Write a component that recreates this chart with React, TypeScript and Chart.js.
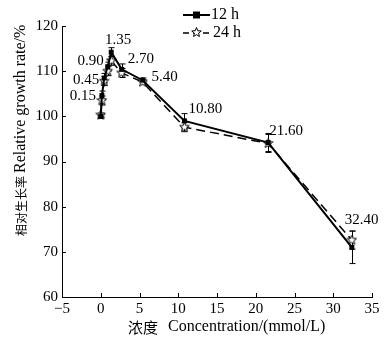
import React, { useEffect, useRef } from "react";
import { Chart, registerables } from "chart.js";

Chart.register(...registerables);

const concentrations = [0, 0.15, 0.45, 0.9, 1.35, 2.7, 5.4, 10.8, 21.6, 32.4];
const pointLabels = ["", "0.15", "0.45", "0.90", "1.35", "2.70", "5.40", "10.80", "21.60", "32.40"];
const growth12h = [100, 104.6, 108.5, 111, 114.2, 110.4, 108, 99, 94.2, 71];
const growth24h = [100.3, 103.5, 107.8, 110, 112.3, 109.6, 107.6, 97.6, 94, 72.6];
const err12h = [0.4, 1, 1, 1, 1, 1.2, 0.5, 1.6, 2, 3.6];
const err24h = [0.4, 1, 1, 1, 1, 1, 0.5, 1, 2, 2];
const seriesNames = ["12 h", "24 h"];
const xTicks = { min: -5, max: 35, step: 5 };
const yTicks = { min: 60, max: 120, step: 10 };
const xTitleCJK = "浓度";
const xTitleLatin = "Concentration/(mmol/L)";
const yTitleCJK = "相对生长率";
const yTitleLatin = "Relative growth rate/%";

// label placement relative to the 12 h point: [align, dx, dy]
const labelPlacement: [CanvasTextAlign, number, number][] = [
  ["left", 0, 0],
  ["right", -6, 1],
  ["right", -5, 2],
  ["right", -4, -6],
  ["center", 7, -12],
  ["left", 6, -10],
  ["left", 9, -3],
  ["left", 4, -12],
  ["left", 1, -11],
  ["left", -7, -27],
];

const SERIF = '"Liberation Serif", "Times New Roman", serif';
const CJK = '"Noto Sans CJK SC", sans-serif';

function makeStar(): HTMLCanvasElement {
  const c = document.createElement("canvas");
  c.width = 11;
  c.height = 11;
  const g = c.getContext("2d")!;
  g.beginPath();
  for (let i = 0; i < 10; i++) {
    const r = i % 2 === 0 ? 5 : 2.2;
    const a = -Math.PI / 2 + (i * Math.PI) / 5;
    const x = 5.5 + r * Math.cos(a);
    const y = 5.5 + r * Math.sin(a);
    if (i === 0) g.moveTo(x, y);
    else g.lineTo(x, y);
  }
  g.closePath();
  g.fillStyle = "#fff";
  g.fill();
  g.strokeStyle = "#000";
  g.lineWidth = 1;
  g.stroke();
  return c;
}

export default function App() {
  const ref = useRef<HTMLCanvasElement | null>(null);

  useEffect(() => {
    const canvas = ref.current;
    if (!canvas) return;
    const star = makeStar();

    const extras = {
      id: "extras",
      beforeDatasetsDraw(chart: any) {
        const ctx = chart.ctx;
        const xs = chart.scales.x;
        const ys = chart.scales.y;
        ctx.save();
        ctx.strokeStyle = "#000";
        ctx.lineWidth = 1;
        const errs = [err12h, err24h];
        const vals = [growth12h, growth24h];
        for (let d = 0; d < 2; d++) {
          concentrations.forEach((c, i) => {
            const x = Math.round(xs.getPixelForValue(c)) + 0.5;
            const yt = ys.getPixelForValue(vals[d][i] + errs[d][i]);
            const yb = ys.getPixelForValue(vals[d][i] - errs[d][i]);
            ctx.beginPath();
            ctx.moveTo(x, yt);
            ctx.lineTo(x, yb);
            ctx.moveTo(x - 3, yt);
            ctx.lineTo(x + 3, yt);
            ctx.moveTo(x - 3, yb);
            ctx.lineTo(x + 3, yb);
            ctx.stroke();
          });
        }
        ctx.restore();
      },
      afterDraw(chart: any) {
        const ctx = chart.ctx;
        const xs = chart.scales.x;
        const ys = chart.scales.y;
        const area = chart.chartArea;
        ctx.save();
        ctx.strokeStyle = "#000";
        ctx.lineWidth = 1;
        // inward ticks
        for (let v = xTicks.min; v <= xTicks.max; v += xTicks.step) {
          const x = Math.round(xs.getPixelForValue(v)) + 0.5;
          ctx.beginPath();
          ctx.moveTo(x, area.bottom);
          ctx.lineTo(x, area.bottom - 4);
          ctx.stroke();
        }
        for (let v = yTicks.min; v <= yTicks.max; v += yTicks.step) {
          const y = Math.round(ys.getPixelForValue(v)) + 0.5;
          ctx.beginPath();
          ctx.moveTo(area.left, y);
          ctx.lineTo(area.left + 4, y);
          ctx.stroke();
        }
        // point labels
        ctx.fillStyle = "#000";
        ctx.font = `15px ${SERIF}`;
        ctx.textBaseline = "middle";
        concentrations.forEach((c, i) => {
          if (!pointLabels[i]) return;
          const [al, dx, dy] = labelPlacement[i];
          ctx.textAlign = al;
          ctx.fillText(pointLabels[i], xs.getPixelForValue(c) + dx, ys.getPixelForValue(growth12h[i]) + dy);
        });
        // axis titles
        ctx.textAlign = "left";
        ctx.font = `15px ${CJK}`;
        ctx.fillText(xTitleCJK, 128, 327);
        ctx.font = `16px ${SERIF}`;
        ctx.fillText(xTitleLatin, 168, 327);
        ctx.save();
        ctx.translate(21, 0);
        ctx.rotate(-Math.PI / 2);
        ctx.font = `12px ${CJK}`;
        ctx.fillText(yTitleCJK, -236, 0);
        ctx.font = `16px ${SERIF}`;
        ctx.fillText(yTitleLatin, -173, 0);
        ctx.restore();
        // legend
        ctx.lineWidth = 2;
        ctx.beginPath();
        ctx.moveTo(183, 15);
        ctx.lineTo(210, 15);
        ctx.stroke();
        ctx.fillRect(193, 11.5, 7, 7);
        ctx.setLineDash([6, 4]);
        ctx.lineWidth = 1.5;
        ctx.beginPath();
        ctx.moveTo(183, 33);
        ctx.lineTo(211, 33);
        ctx.stroke();
        ctx.setLineDash([]);
        ctx.drawImage(star, 191, 27);
        ctx.font = `16px ${SERIF}`;
        ctx.fillText(seriesNames[0], 211, 15);
        ctx.fillText(seriesNames[1], 213, 33);
        ctx.restore();
      },
    };

    const chart = new Chart(canvas, {
      type: "line",
      data: {
        datasets: [
          {
            label: seriesNames[0],
            data: concentrations.map((c, i) => ({ x: c, y: growth12h[i] })),
            borderColor: "#000",
            backgroundColor: "#000",
            borderWidth: 2,
            pointStyle: "rect",
            pointRadius: 3.5,
            pointBorderWidth: 0,
          },
          {
            label: seriesNames[1],
            data: concentrations.map((c, i) => ({ x: c, y: growth24h[i] })),
            borderColor: "#000",
            backgroundColor: "#fff",
            borderWidth: 1.5,
            borderDash: [9, 5],
            pointStyle: star as any,
          },
        ],
      },
      options: {
        animation: false,
        responsive: false,
        devicePixelRatio: 1,
        layout: { padding: { left: 0, top: 26, right: 16, bottom: 0 } },
        plugins: { legend: { display: false }, tooltip: { enabled: false } },
        scales: {
          x: {
            type: "linear",
            min: xTicks.min,
            max: xTicks.max,
            afterFit: (s: any) => {
              s.height = 43;
            },
            ticks: {
              stepSize: xTicks.step,
              color: "#000",
              font: { family: SERIF, size: 15 },
              padding: 3,
              callback: (v: any) => String(v).replace("-", "\u2212"),
            },
            grid: { drawOnChartArea: false, drawTicks: false },
            border: { color: "#000", width: 1 },
          },
          y: {
            type: "linear",
            min: yTicks.min,
            max: yTicks.max,
            afterFit: (s: any) => {
              s.width = 62;
            },
            ticks: {
              stepSize: yTicks.step,
              color: "#000",
              font: { family: SERIF, size: 15 },
              padding: 4,
            },
            grid: { drawOnChartArea: false, drawTicks: false },
            border: { color: "#000", width: 1 },
          },
        },
      },
      plugins: [extras],
    });
    return () => chart.destroy();
  }, []);

  return (
    <div style={{ position: "fixed", left: 0, top: 0, width: 388, height: 340, background: "#fff" }}>
      <canvas ref={ref} width={388} height={340} />
    </div>
  );
}
